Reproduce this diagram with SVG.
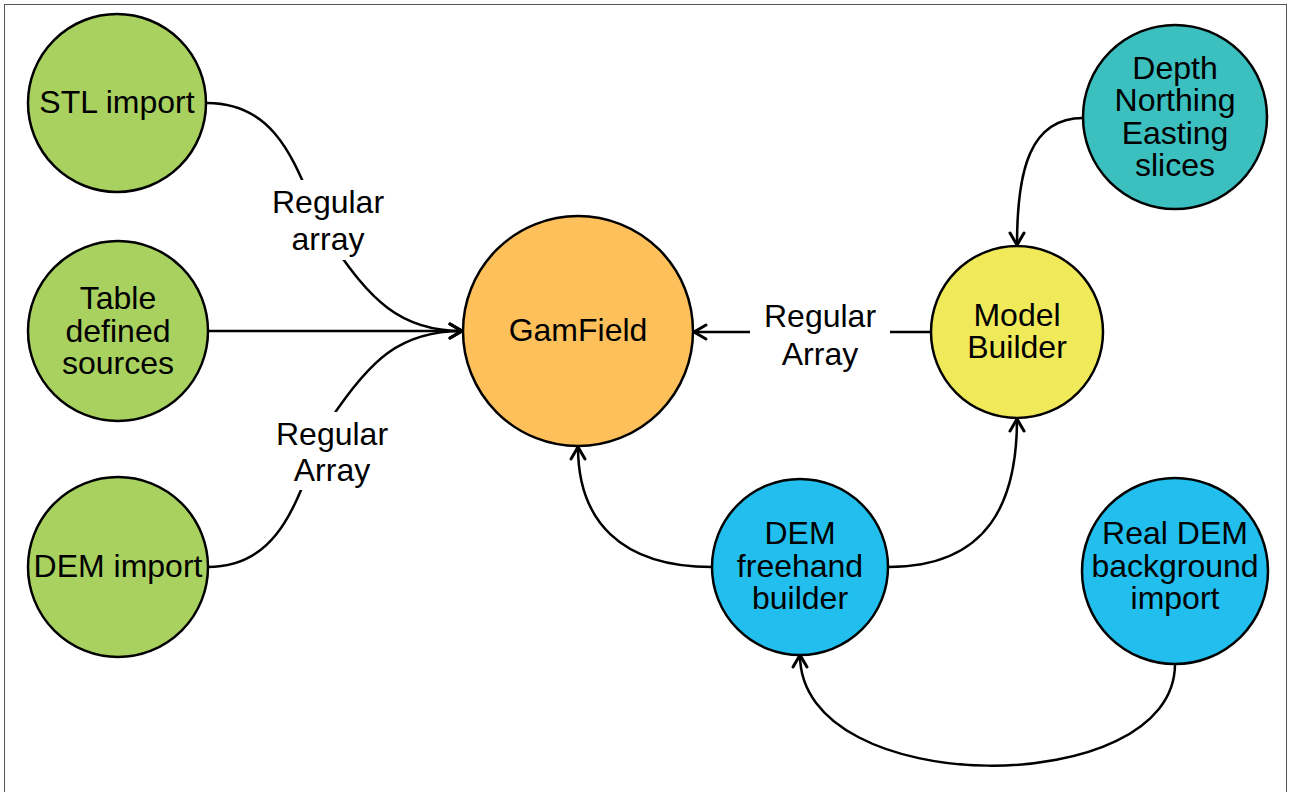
<svg xmlns="http://www.w3.org/2000/svg" width="1290" height="792" viewBox="0 0 1290 792">
<style>
.n{stroke:#000;stroke-width:2.5}
.t{font-family:"Liberation Sans",Arial,sans-serif;font-size:32px;fill:#000;text-anchor:middle}
.e{fill:none;stroke:#000;stroke-width:2.5}
.bg{fill:#fff}
</style>
<defs>
<marker id="a" viewBox="0 0 20 20" refX="17" refY="10" markerWidth="20" markerHeight="20" markerUnits="userSpaceOnUse" orient="auto">
<path d="M5,3 L17,10 L5,17" fill="none" stroke="#000" stroke-width="3" stroke-linecap="round" stroke-linejoin="round"/>
</marker>
</defs>
<rect x="4.5" y="4.5" width="1282" height="800" fill="#fff" stroke="#555" stroke-width="1"/>
<g id="connectors">
<path class="e" d="M207,103 C290,103 300,190 330,240 C370,300 400,331 462,331" marker-end="url(#a)"/>
<path class="e" d="M208,331 L462,331" marker-end="url(#a)"/>
<path class="e" d="M208,567 C290,567 300,480 330,420 C370,360 400,331 462,331" marker-end="url(#a)"/>
<path class="e" d="M930,332 L694,332" marker-end="url(#a)"/>
<path class="e" d="M1083,118 C1030,118 1017,170 1017,245" marker-end="url(#a)"/>
<path class="e" d="M712,567 C620,567 578,520 578,447" marker-end="url(#a)"/>
<path class="e" d="M888,567 C990,567 1017,500 1017,419" marker-end="url(#a)"/>
<path class="e" d="M1175,664 C1175,801 800,801 800,655" marker-end="url(#a)"/>
<rect class="bg" x="268" y="180" width="122" height="80"/>
<text class="t" x="328" y="213">Regular</text>
<text class="t" x="328" y="250">array</text>
<rect class="bg" x="270" y="412" width="124" height="78"/>
<text class="t" x="332" y="445">Regular</text>
<text class="t" x="332" y="481">Array</text>
<rect class="bg" x="750" y="296" width="140" height="78"/>
<text class="t" x="820" y="327">Regular</text>
<text class="t" x="820" y="365">Array</text>
</g>
<g id="stl">
<circle class="n" cx="117" cy="103" r="89" fill="#a9d160"/>
<text class="t" x="117" y="113">STL import</text>
</g>
<g id="table">
<circle class="n" cx="118" cy="331" r="90" fill="#a9d160"/>
<text class="t" x="118" y="309">Table</text>
<text class="t" x="118" y="342">defined</text>
<text class="t" x="118" y="374">sources</text>
</g>
<g id="demimport">
<circle class="n" cx="118" cy="567" r="90" fill="#a9d160"/>
<text class="t" x="118" y="577">DEM import</text>
</g>
<g id="gamfield">
<circle class="n" cx="578" cy="331" r="115" fill="#fdc05a"/>
<text class="t" x="578" y="341">GamField</text>
</g>
<g id="modelbuilder">
<circle class="n" cx="1017" cy="332" r="86" fill="#f0ea5a"/>
<text class="t" x="1017" y="326">Model</text>
<text class="t" x="1017" y="358">Builder</text>
</g>
<g id="slices">
<circle class="n" cx="1175" cy="117" r="92" fill="#3bbfbf"/>
<text class="t" x="1175" y="79">Depth</text>
<text class="t" x="1175" y="111">Northing</text>
<text class="t" x="1175" y="144">Easting</text>
<text class="t" x="1175" y="176">slices</text>
</g>
<g id="freehand">
<circle class="n" cx="800" cy="567" r="88" fill="#22bfee"/>
<text class="t" x="800" y="544">DEM</text>
<text class="t" x="800" y="577">freehand</text>
<text class="t" x="800" y="609">builder</text>
</g>
<g id="realdem">
<circle class="n" cx="1175" cy="571" r="93" fill="#22bfee"/>
<text class="t" x="1175" y="544">Real DEM</text>
<text class="t" x="1175" y="577">background</text>
<text class="t" x="1175" y="609">import</text>
</g>
</svg>
